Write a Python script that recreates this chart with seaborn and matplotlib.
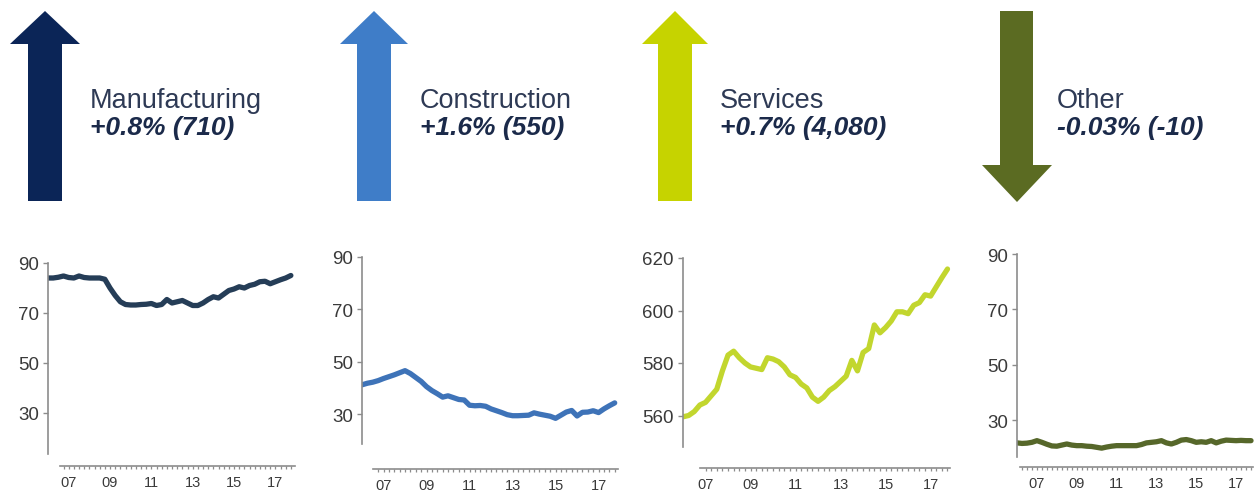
import numpy as np
import matplotlib
matplotlib.use('Agg')
from matplotlib import pyplot as plt
from matplotlib.patches import Polygon
import seaborn as sns

# quarterly observations, 2006Q1 .. 2017Q4
quarters = np.arange(2006, 2018, 0.25)

manufacturing = [84, 84, 84.3, 84.8, 84.2, 84, 84.8, 84.2, 84, 84, 84, 83.5,
                 80, 77, 74.5, 73.4, 73.2, 73.2, 73.4, 73.5, 73.8, 73.0, 73.4, 75.4,
                 74, 74.5, 75, 74, 73, 73, 74, 75.4, 76.5, 76, 77.5, 79,
                 79.6, 80.5, 80, 81, 81.5, 82.5, 82.7, 81.7, 82.5, 83.3, 84, 85]
construction = [41.2, 41.8, 42.2, 42.8, 43.6, 44.3, 45, 45.8, 46.6, 45.5, 44.0, 42.5,
                40.5, 39, 37.8, 36.5, 37, 36.3, 35.6, 35.4, 33.4, 33.2, 33.3, 33.0,
                32, 31.3, 30.6, 29.8, 29.4, 29.4, 29.5, 29.6, 30.5, 30.0, 29.6, 29.2,
                28.4, 29.6, 30.8, 31.4, 29.3, 30.7, 30.8, 31.3, 30.6, 32, 33.2, 34.3]
services = [559.5, 560, 561.5, 564, 565, 567.5, 570, 577, 583, 584.5, 582, 580,
            578.5, 578, 577.5, 582, 581.5, 580.5, 578.5, 575.5, 574.5, 572, 570.5, 567,
            565.4, 567, 569.5, 571, 573, 575, 581, 577, 584, 585.5, 594.5, 591.5,
            593.5, 596, 599.5, 599.5, 598.8, 602, 603, 606, 605.5, 609, 612.5, 615.8]
other = [21.8, 21.6, 21.7, 22.0, 22.6, 22.0, 21.3, 20.7, 20.6, 21.0, 21.4, 21.0,
         20.8, 20.8, 20.6, 20.5, 20.2, 19.9, 20.3, 20.6, 20.8, 20.8, 20.8, 20.8,
         20.8, 21.2, 21.8, 22.0, 22.2, 22.6, 21.8, 21.4, 22.0, 22.8, 23.0, 22.6,
         22.0, 22.2, 22.0, 22.6, 21.8, 22.4, 22.8, 22.7, 22.6, 22.7, 22.6, 22.6]

names = ['Manufacturing', 'Construction', 'Services', 'Other']
changes = ['+0.8% (710)', '+1.6% (550)', '+0.7% (4,080)', '-0.03% (-10)']
series = [manufacturing, construction, services, other]
year_labels = ['07', '09', '11', '13', '15', '17']
year_ticks = [2007, 2009, 2011, 2013, 2015, 2017]
yticks = [[30, 50, 70, 90], [30, 50, 70, 90], [560, 580, 600, 620], [30, 50, 70, 90]]

arrow_colors = ['#0b2557', '#3f7dc8', '#c6d300', '#5b6b22']
line_colors = ['#253d57', '#3e73b8', '#c2d62e', '#56672a']

sns.set_style('white')
plt.rcParams['font.family'] = ['Liberation Sans', 'DejaVu Sans']

W, H = 1257, 502
fig = plt.figure(figsize=(W / 100, H / 100), dpi=100)

# layout in pixels: left, top, bottom, width, ylim, spine offset, spine bounds
panels = [
    (48, 264, 455, 247, (13.6, 90), 12, (2006.58, 2017.93)),
    (362, 258, 445, 257, (18.6, 90), 25, (2006.51, 2017.9)),
    (683, 259, 448, 269, (548, 620), 21, (2006.76, 2017.85)),
    (1017, 255, 458, 238, (16.7, 90), 10, (2006.15, 2017.85)),
]

for i, (left, top, bottom, width, ylim, off, bounds) in enumerate(panels):
    ax = fig.add_axes([left / W, 1 - bottom / H, width / W, (bottom - top) / H])
    sns.lineplot(x=quarters, y=series[i], ax=ax, color=line_colors[i], linewidth=3.8)
    ax.set_xlim(2006, 2017.95)
    ax.set_ylim(*ylim)
    ax.set_facecolor('none')
    for s in ['top', 'right']:
        ax.spines[s].set_visible(False)
    ax.spines['left'].set_color('#8c8c8c')
    ax.spines['left'].set_linewidth(1.2)
    ax.spines['bottom'].set_color('#8c8c8c')
    ax.spines['bottom'].set_linewidth(1.2)
    ax.spines['bottom'].set_position(('outward', off * 0.72))
    ax.spines['bottom'].set_bounds(*bounds)
    ax.set_yticks(yticks[i])
    ax.set_yticklabels([str(v) for v in yticks[i]])
    ax.set_xticks(year_ticks)
    ax.set_xticklabels(year_labels)
    minor = [q for q in np.arange(2006, 2018.01, 0.25) if bounds[0] <= q <= bounds[1]]
    ax.set_xticks(minor, minor=True)
    ax.tick_params(axis='y', which='major', left=True, length=3.6, width=1, color='#8c8c8c',
                   labelsize=13.5, labelcolor='#3a3a3a', pad=3)
    ax.tick_params(axis='x', which='both', bottom=True, length=2.4, width=0.9, color='#8c8c8c',
                   direction='out')
    ax.tick_params(axis='x', which='major', labelsize=10.5, labelcolor='#3a3a3a', pad=4)
    ax.set_xlabel('')
    ax.set_ylabel('')

# arrows and headline labels on an overlay in pixel coordinates
ov = fig.add_axes([0, 0, 1, 1])
ov.set_xlim(0, W)
ov.set_ylim(H, 0)
ov.axis('off')

arrows = [
    ('up', 10, 80, 28, 62),
    ('up', 340, 408, 357, 391),
    ('up', 642, 708, 658, 692),
    ('down', 982, 1052, 1000, 1033),
]
text_x = [90, 420, 720, 1057]

for i, (kind, hx0, hx1, sx0, sx1) in enumerate(arrows):
    cx = (hx0 + hx1) / 2
    if kind == 'up':
        pts = [(cx, 12), (hx1, 45), (sx1, 45), (sx1, 202), (sx0, 202), (sx0, 45), (hx0, 45)]
    else:
        pts = [(sx0, 12), (sx1, 12), (sx1, 166), (hx1, 166), (cx, 203), (hx0, 166), (sx0, 166)]
    ov.add_patch(Polygon(pts, closed=True, facecolor=arrow_colors[i], edgecolor='none'))
    ov.text(text_x[i], 108, names[i], fontsize=19.5, color='#2e3a55', va='baseline', ha='left')
    ov.text(text_x[i], 135, changes[i], fontsize=19, color='#1b2a4a', va='baseline', ha='left',
            fontweight='bold', fontstyle='italic')

fig.savefig('out.png', dpi=100)
